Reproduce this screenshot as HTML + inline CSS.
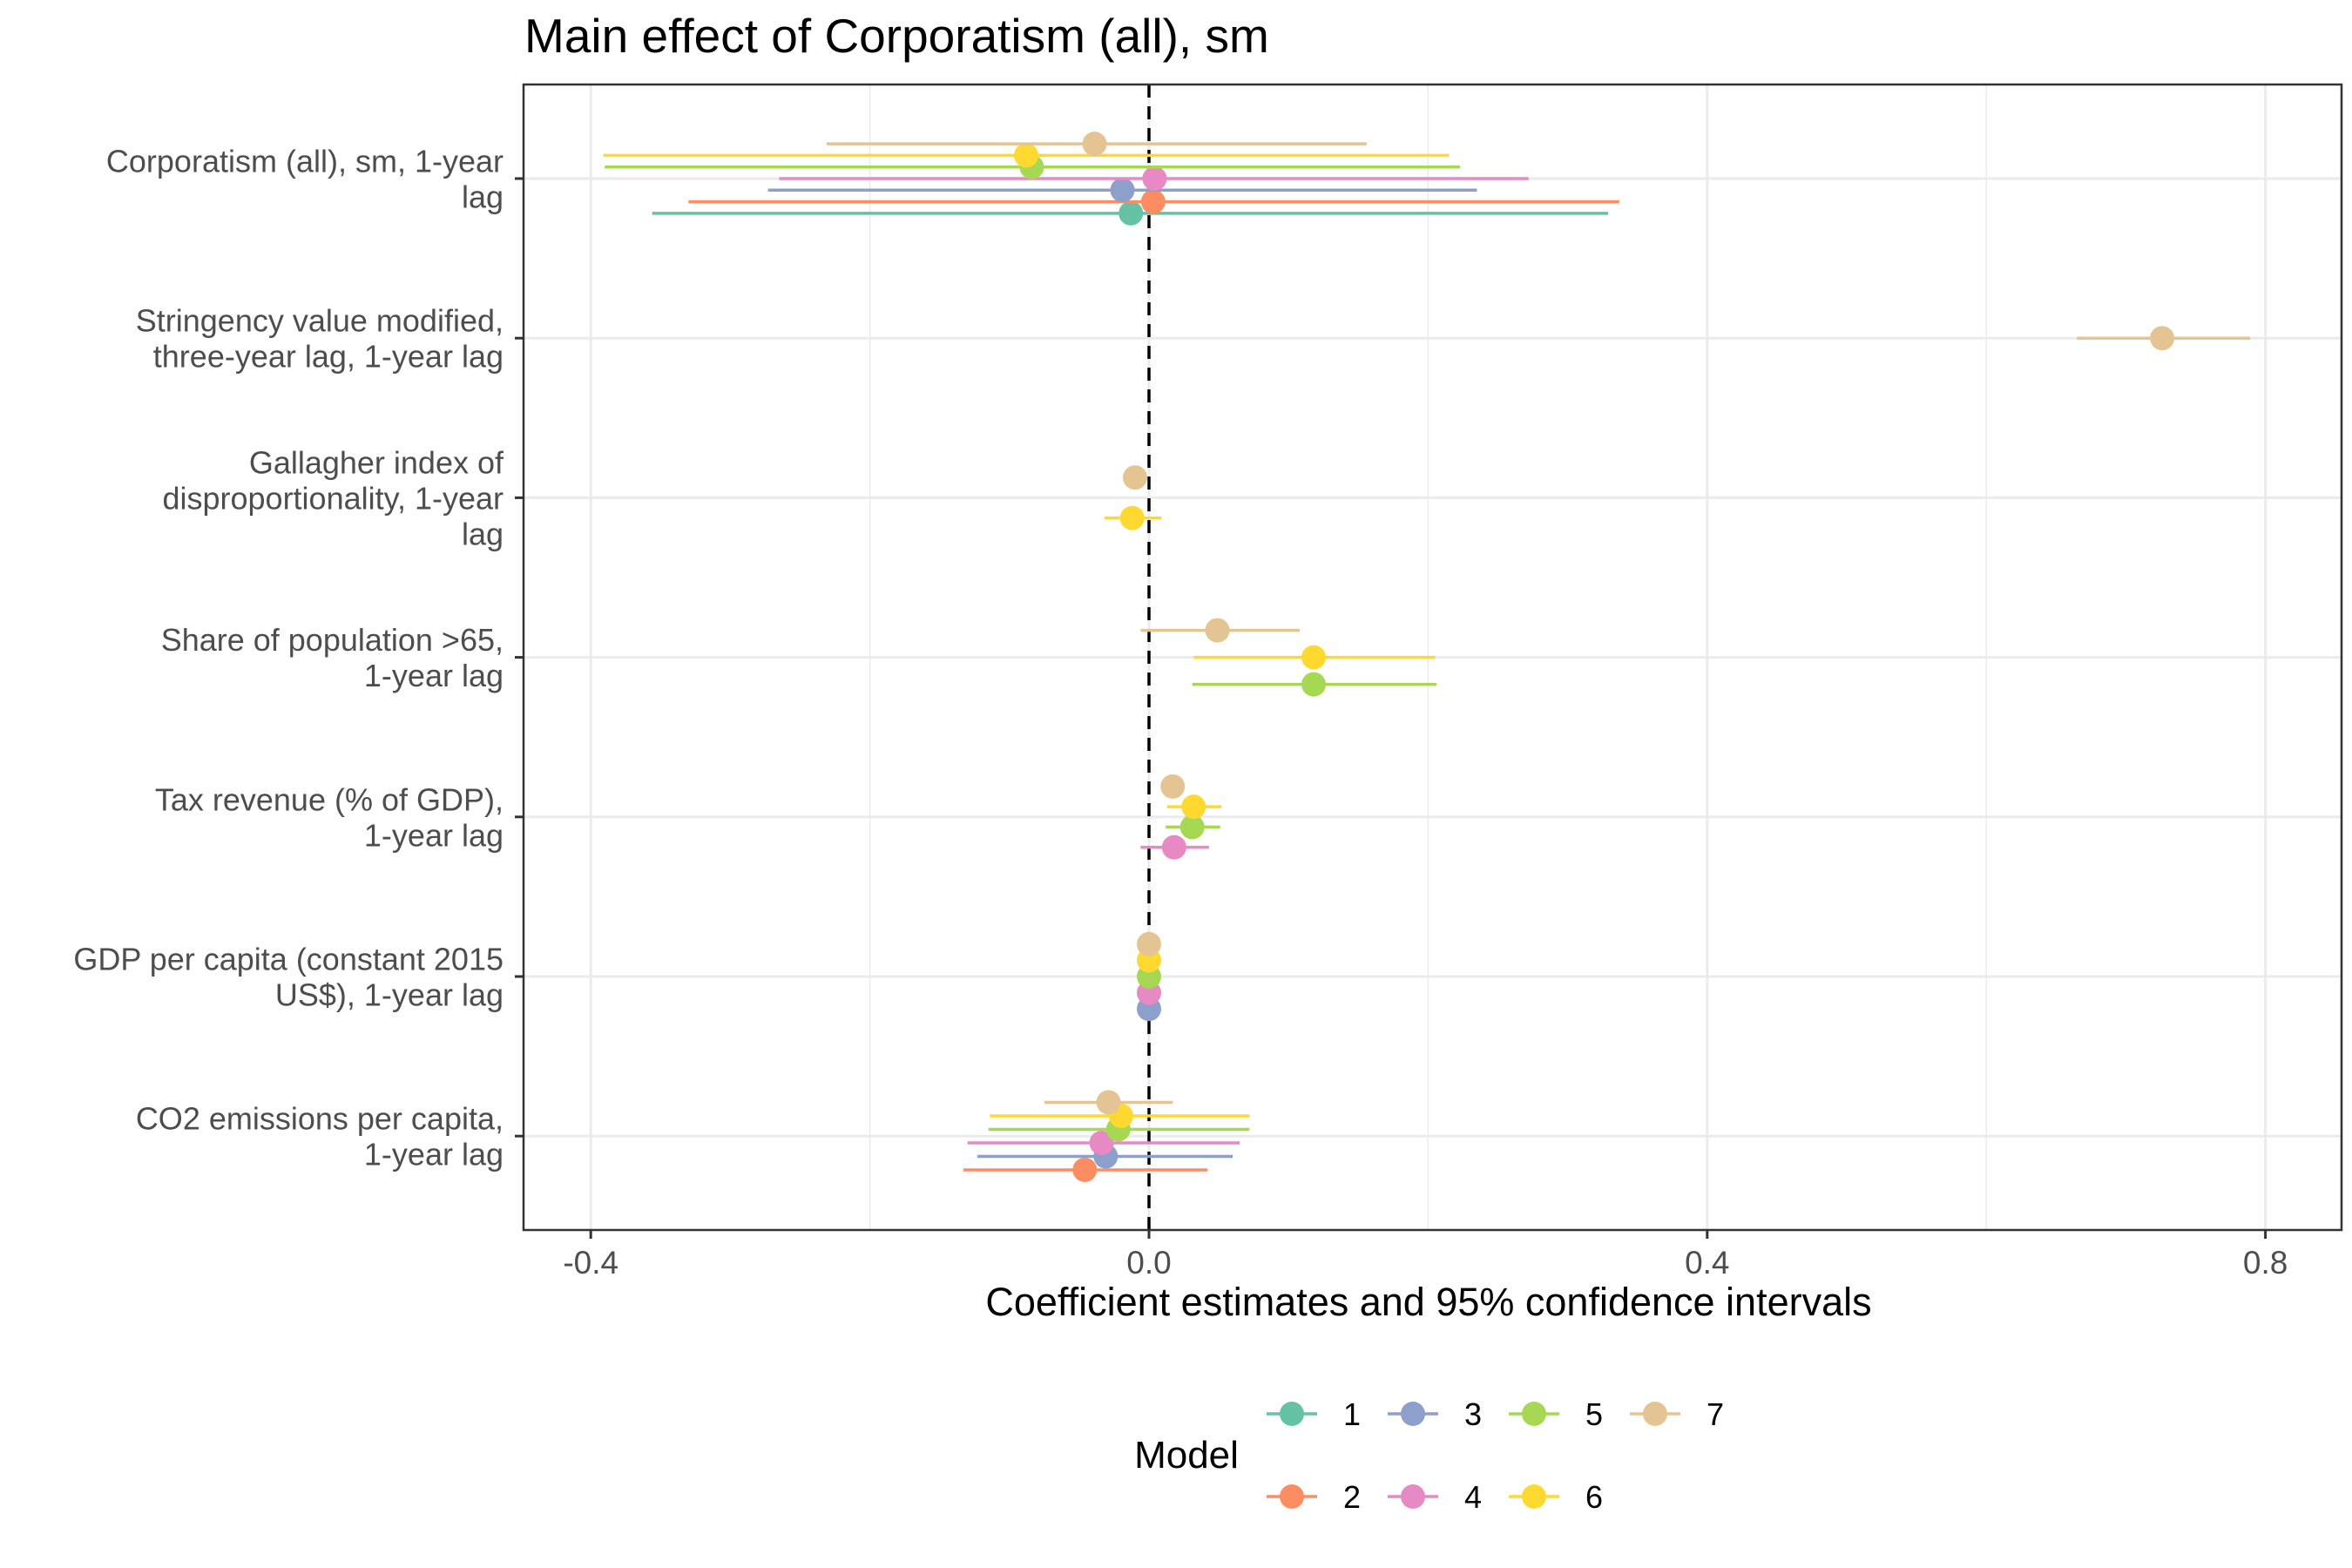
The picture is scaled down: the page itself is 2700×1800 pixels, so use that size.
<!DOCTYPE html>
<html><head><meta charset="utf-8"><style>
html,body{margin:0;padding:0;background:#fff}
svg{display:block;font-family:"Liberation Sans",sans-serif}
</style></head><body>
<svg id="chart" width="2700" height="1800" viewBox="0 0 2700 1800">
<text x="602" y="60" font-size="55" fill="#000">Main effect of Corporatism (all), sm</text>
<g id="grid"></g>
<g id="marks"></g>
<rect x="601" y="97" width="2087" height="1315" fill="none" stroke="#333" stroke-width="2.5"/>
<g id="axes"></g>
<text x="1640" y="1510" text-anchor="middle" font-size="45" fill="#000">Coefficient estimates and 95% confidence intervals</text>
<text x="1362" y="1685" text-anchor="middle" font-size="44" fill="#000">Model</text>
<g id="legend"></g>
</svg>
<script>
const categories = [
  ["Corporatism (all), sm, 1-year","lag"],
  ["Stringency value modified,","three-year lag, 1-year lag"],
  ["Gallagher index of","disproportionality, 1-year","lag"],
  ["Share of population >65,","1-year lag"],
  ["Tax revenue (% of GDP),","1-year lag"],
  ["GDP per capita (constant 2015","US$), 1-year lag"],
  ["CO2 emissions per capita,","1-year lag"]
];
const models = [1,2,3,4,5,6,7];
const colors = ["#66C2A5","#FC8D62","#8DA0CB","#E78AC3","#A6D854","#FFD92F","#E5C494"];
const xTicks = [-0.4,0,0.4,0.8];
const xTickLabels = ["-0.4","0.0","0.4","0.8"];
const xMinor = [-0.2,0.2,0.6];
const rowCat   = [0,0,0,0,0,0,0, 1, 2,2, 3,3,3, 4,4,4,4, 5,5,5,5,5, 6,6,6,6,6,6];
const rowModel = [1,2,3,4,5,6,7, 7, 6,7, 5,6,7, 4,5,6,7, 3,4,5,6,7, 2,3,4,5,6,7];
const estimate = [-0.013,0.003,-0.019,0.004,-0.084,-0.088,-0.039, 0.726, -0.012,-0.010, 0.118,0.118,0.049, 0.018,0.031,0.032,0.017, 0.000,0.000,0.000,0.000,0.000, -0.046,-0.031,-0.034,-0.022,-0.020,-0.029];
const lower    = [-0.356,-0.330,-0.273,-0.265,-0.390,-0.391,-0.231, 0.665, -0.032,-0.012, 0.031,0.032,-0.006, -0.006,0.012,0.013,0.015, -0.002,-0.002,-0.002,-0.002,-0.002, -0.133,-0.123,-0.130,-0.115,-0.114,-0.075];
const upper    = [0.329,0.337,0.235,0.272,0.223,0.215,0.156, 0.789, 0.009,-0.008, 0.206,0.205,0.108, 0.043,0.051,0.052,0.019, 0.002,0.002,0.002,0.002,0.002, 0.042,0.060,0.065,0.072,0.072,0.017];

const NS="http://www.w3.org/2000/svg";
const PL=601, PR=2688, PT=97, PB=1412;
const x = v => 1319 + v*1602;
const yCat = i => 205 + i*183.2;
const DW = 93;
function mk(tag, attrs, parent){const e=document.createElementNS(NS,tag);for(const k in attrs)e.setAttribute(k,attrs[k]);parent.appendChild(e);return e;}
const grid=document.getElementById('grid'), marks=document.getElementById('marks'), axes=document.getElementById('axes'), legend=document.getElementById('legend');

xMinor.forEach(v=>{const l=mk('line',{x1:x(v),x2:x(v),y1:PT,y2:PB,stroke:'#ebebeb','stroke-width':1.5},grid);

});
xTicks.forEach((v,i)=>{const l=mk('line',{x1:x(v),x2:x(v),y1:PT,y2:PB,stroke:'#ebebeb','stroke-width':3},grid);


const t=mk('line',{x1:x(v),x2:x(v),y1:PB,y2:PB+10,stroke:'#333','stroke-width':3},axes);


const tx=mk('text',{x:x(v),y:PB+50,'text-anchor':'middle','font-size':37,fill:'#4d4d4d'},axes);tx.textContent=xTickLabels[i];

});
categories.forEach((lines,i)=>{const y=yCat(i);
const l=mk('line',{x1:PL,x2:PR,y1:y,y2:y,stroke:'#ebebeb','stroke-width':3},grid);


const t=mk('line',{x1:PL-10,x2:PL,y1:y,y2:y,stroke:'#333','stroke-width':3},axes);


const n=lines.length, lh=41;
lines.forEach((s,j)=>{const tx=mk('text',{x:578,y:y+13+(j-(n-1)/2)*lh,'text-anchor':'end','font-size':36,fill:'#4d4d4d'},axes);tx.textContent=s;

});});

const z=mk('line',{x1:x(0),x2:x(0),y1:PT,y2:PB,stroke:'#000','stroke-width':3.5,'stroke-dasharray':'15 10'},marks);



const counts={};rowCat.forEach(c=>counts[c]=(counts[c]||0)+1);
const idx={};
rowCat.forEach((c,k)=>{
  const n=counts[c]; const i=(idx[c]=(idx[c]===undefined?0:idx[c]+1));
  const y=yCat(c) - (i-(n-1)/2)*DW/n;
  const col=colors[rowModel[k]-1];
  const l=mk('line',{x1:x(lower[k]),x2:x(upper[k]),y1:y,y2:y,stroke:col,'stroke-width':3.5},marks);
  
  
  const p=mk('circle',{cx:x(estimate[k]),cy:y,r:14,fill:col},marks);
  
  
});

models.forEach((m,i)=>{const col=Math.floor(i/2), row=i%2;
  const x0=1454+col*139, y0=1623+row*95;
  const g=mk('g',{},legend);
  
  
  mk('line',{x1:x0,x2:x0+58,y1:y0,y2:y0,stroke:colors[i],'stroke-width':3.5},g);
  mk('circle',{cx:x0+29,cy:y0,r:14,fill:colors[i]},g);
  const t=mk('text',{x:x0+98,y:y0+13,'text-anchor':'middle','font-size':36,fill:'#000'},g);t.textContent=m;
});
</script>
</body></html>
